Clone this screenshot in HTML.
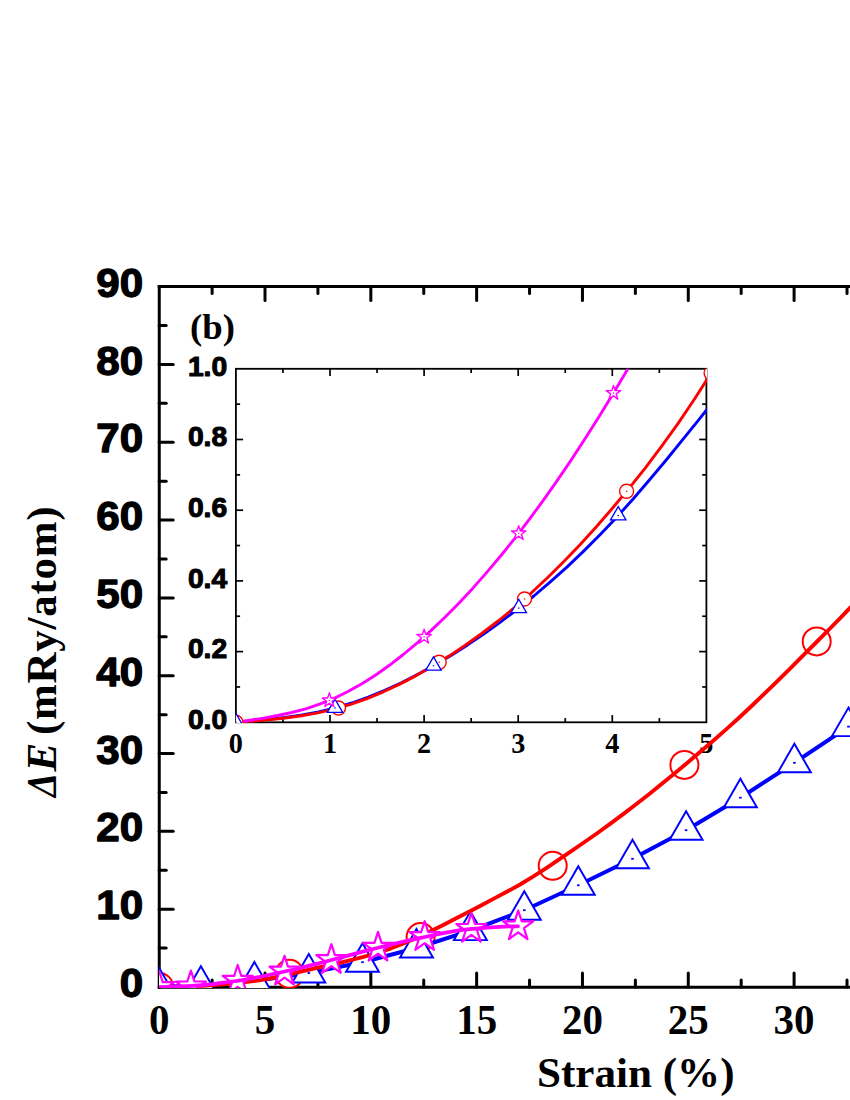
<!DOCTYPE html>
<html lang="en">
<head>
<meta charset="utf-8">
<title>Strain energy chart (b)</title>
<style>
html, body { margin: 0; padding: 0; background: #ffffff; }
body { width: 850px; height: 1100px; overflow: hidden; font-family: "Liberation Sans", sans-serif; }
svg { display: block; }
</style>
</head>
<body>
<svg width="850" height="1100" viewBox="0 0 850 1100">
<rect x="0" y="0" width="850" height="1100" fill="#ffffff"/>
<g id="main-axes" stroke="#000" stroke-width="3" fill="none" stroke-linecap="butt">
<path d="M159.25 285.1 V988.7"/>
<path d="M157.75 286.6 H855"/>
<path d="M157.75 987.2 H855"/>
</g>
<g id="main-ticks" stroke="#000" stroke-width="3" fill="none" stroke-linecap="round">
<path d="M212.11 987 v-7"/>
<path d="M212.11 286.6 v7"/>
<path d="M265.01 987 v-14"/>
<path d="M265.01 286.6 v14"/>
<path d="M317.92 987 v-7"/>
<path d="M317.92 286.6 v7"/>
<path d="M370.83 987 v-14"/>
<path d="M370.83 286.6 v14"/>
<path d="M423.74 987 v-7"/>
<path d="M423.74 286.6 v7"/>
<path d="M476.64 987 v-14"/>
<path d="M476.64 286.6 v14"/>
<path d="M529.55 987 v-7"/>
<path d="M529.55 286.6 v7"/>
<path d="M582.46 987 v-14"/>
<path d="M582.46 286.6 v14"/>
<path d="M635.37 987 v-7"/>
<path d="M635.37 286.6 v7"/>
<path d="M688.28 987 v-14"/>
<path d="M688.28 286.6 v14"/>
<path d="M741.18 987 v-7"/>
<path d="M741.18 286.6 v7"/>
<path d="M794.09 987 v-14"/>
<path d="M794.09 286.6 v14"/>
<path d="M847 987 v-7"/>
<path d="M847 286.6 v7"/>
<path d="M159.2 948.09 h7"/>
<path d="M159.2 909.18 h14"/>
<path d="M159.2 870.27 h7"/>
<path d="M159.2 831.36 h14"/>
<path d="M159.2 792.45 h7"/>
<path d="M159.2 753.54 h14"/>
<path d="M159.2 714.63 h7"/>
<path d="M159.2 675.72 h14"/>
<path d="M159.2 636.81 h7"/>
<path d="M159.2 597.9 h14"/>
<path d="M159.2 558.99 h7"/>
<path d="M159.2 520.08 h14"/>
<path d="M159.2 481.17 h7"/>
<path d="M159.2 442.26 h14"/>
<path d="M159.2 403.35 h7"/>
<path d="M159.2 364.44 h14"/>
<path d="M159.2 325.53 h7"/>
</g>
<g id="main-ylabels" font-family="'Liberation Sans', sans-serif" font-weight="bold" font-size="40.9" fill="#000" stroke="#000" stroke-width="1.3" stroke-linejoin="round" text-anchor="end">
<text transform="translate(143.2 997.1) scale(1.03 1)" x="0" y="0">0</text>
<text transform="translate(143.2 919.28) scale(1.03 1)" x="0" y="0">10</text>
<text transform="translate(143.2 841.46) scale(1.03 1)" x="0" y="0">20</text>
<text transform="translate(143.2 763.64) scale(1.03 1)" x="0" y="0">30</text>
<text transform="translate(143.2 685.82) scale(1.03 1)" x="0" y="0">40</text>
<text transform="translate(143.2 608) scale(1.03 1)" x="0" y="0">50</text>
<text transform="translate(143.2 530.18) scale(1.03 1)" x="0" y="0">60</text>
<text transform="translate(143.2 452.36) scale(1.03 1)" x="0" y="0">70</text>
<text transform="translate(143.2 374.54) scale(1.03 1)" x="0" y="0">80</text>
<text transform="translate(143.2 296.72) scale(1.03 1)" x="0" y="0">90</text>
</g>
<g id="main-xlabels" font-family="'Liberation Serif', serif" font-weight="bold" font-size="41" fill="#000" text-anchor="middle">
<text transform="translate(159.2 1034.4) scale(1 1.025)" x="0" y="0">0</text>
<text transform="translate(265.01 1034.4) scale(1 1.025)" x="0" y="0">5</text>
<text transform="translate(370.83 1034.4) scale(1 1.025)" x="0" y="0">10</text>
<text transform="translate(476.64 1034.4) scale(1 1.025)" x="0" y="0">15</text>
<text transform="translate(582.46 1034.4) scale(1 1.025)" x="0" y="0">20</text>
<text transform="translate(688.28 1034.4) scale(1 1.025)" x="0" y="0">25</text>
<text transform="translate(794.09 1034.4) scale(1 1.025)" x="0" y="0">30</text>
</g>
<text id="xtitle" x="635.8" y="1087.3" font-family="'Liberation Serif', serif" font-weight="bold" font-size="43.1" text-anchor="middle" fill="#000">Strain (%)</text>
<g id="ytitle" font-family="'Liberation Serif', serif" font-weight="bold" fill="#000" style="font-kerning:none" font-size="43">
<text transform="translate(55.6 797) rotate(-90) scale(0.89 1)" font-style="italic">&#916;</text>
<text transform="translate(55.6 771.5) rotate(-90)" font-style="italic">E</text>
<text transform="translate(55.6 735.1) rotate(-90)" letter-spacing="0.74">(mRy/atom)</text>
</g>
<text id="panel" x="212.5" y="338.7" font-family="'Liberation Serif', serif" font-weight="bold" font-size="36.7" text-anchor="middle" fill="#000">(b)</text>
<g id="inset">
<rect x="235.9" y="368.8" width="470.5" height="353.5" fill="#fff" stroke="#000" stroke-width="1.8"/>
<g stroke="#000" stroke-width="1.7" fill="none" stroke-linecap="butt">
<path d="M282.95 722.3 v-4.2"/>
<path d="M282.95 368.8 v4.2"/>
<path d="M330 722.3 v-7.2"/>
<path d="M330 368.8 v7.2"/>
<path d="M377.05 722.3 v-4.2"/>
<path d="M377.05 368.8 v4.2"/>
<path d="M424.1 722.3 v-7.2"/>
<path d="M424.1 368.8 v7.2"/>
<path d="M471.15 722.3 v-4.2"/>
<path d="M471.15 368.8 v4.2"/>
<path d="M518.2 722.3 v-7.2"/>
<path d="M518.2 368.8 v7.2"/>
<path d="M565.25 722.3 v-4.2"/>
<path d="M565.25 368.8 v4.2"/>
<path d="M612.3 722.3 v-7.2"/>
<path d="M612.3 368.8 v7.2"/>
<path d="M659.35 722.3 v-4.2"/>
<path d="M659.35 368.8 v4.2"/>
<path d="M235.9 686.95 h4.2"/>
<path d="M706.4 686.95 h-4.2"/>
<path d="M235.9 651.6 h7.2"/>
<path d="M706.4 651.6 h-7.2"/>
<path d="M235.9 616.25 h4.2"/>
<path d="M706.4 616.25 h-4.2"/>
<path d="M235.9 580.9 h7.2"/>
<path d="M706.4 580.9 h-7.2"/>
<path d="M235.9 545.55 h4.2"/>
<path d="M706.4 545.55 h-4.2"/>
<path d="M235.9 510.2 h7.2"/>
<path d="M706.4 510.2 h-7.2"/>
<path d="M235.9 474.85 h4.2"/>
<path d="M706.4 474.85 h-4.2"/>
<path d="M235.9 439.5 h7.2"/>
<path d="M706.4 439.5 h-7.2"/>
<path d="M235.9 404.15 h4.2"/>
<path d="M706.4 404.15 h-4.2"/>
</g>
<g font-family="'Liberation Sans', sans-serif" font-weight="bold" font-size="26.9" fill="#000" stroke="#000" stroke-width="1" stroke-linejoin="round" text-anchor="end">
<text transform="translate(227.15 729.1) scale(1.05 1)" x="0" y="0">0.0</text>
<text transform="translate(227.15 658.4) scale(1.05 1)" x="0" y="0">0.2</text>
<text transform="translate(227.15 587.7) scale(1.05 1)" x="0" y="0">0.4</text>
<text transform="translate(227.15 517) scale(1.05 1)" x="0" y="0">0.6</text>
<text transform="translate(227.15 446.3) scale(1.05 1)" x="0" y="0">0.8</text>
<text transform="translate(227.15 375.6) scale(1.05 1)" x="0" y="0">1.0</text>
</g>
<g font-family="'Liberation Serif', serif" font-weight="bold" font-size="28.2" fill="#000" text-anchor="middle">
<text transform="translate(235.9 753) scale(1 1.04)" x="0" y="0">0</text>
<text transform="translate(330 753) scale(1 1.04)" x="0" y="0">1</text>
<text transform="translate(424.1 753) scale(1 1.04)" x="0" y="0">2</text>
<text transform="translate(518.2 753) scale(1 1.04)" x="0" y="0">3</text>
<text transform="translate(612.3 753) scale(1 1.04)" x="0" y="0">4</text>
<text transform="translate(706.4 753) scale(1 1.04)" x="0" y="0">5</text>
</g>
<clipPath id="iclip"><rect x="235.9" y="368.8" width="471.1" height="354.1"/></clipPath>
<g clip-path="url(#iclip)" fill="none" stroke-linejoin="round">
<path d="M235.9 722.3 252.4 720.9 269 719.3 285.5 717.4 302.1 715 318.6 711.9 335.2 707.9 351.7 703 368.3 697.1 384.8 690.3 401.4 682.7 417.9 674.3 434.5 665.2 451 655.4 467.6 644.9 484.1 633.8 500.7 621.9 517.2 609.3 533.8 596 550.3 581.9 566.9 567.1 583.4 551.4 600 534.8 616.5 517.4 633.1 499 649.6 479.8 666.2 460 682.7 439.7 699.3 419.1 715.8 398.3" stroke="#0000ff" stroke-width="2.9"/>
<path d="M235.9 722.3 252.3 721.1 268.7 719.7 285.1 718 301.4 715.8 317.8 712.9 334.2 709.1 350.6 704.4 367 698.6 383.4 691.8 399.8 684.1 416.2 675.6 432.5 666.2 448.9 656.1 465.3 645.2 481.7 633.5 498.1 621 514.5 607.6 530.9 593.3 547.2 578 563.6 561.8 580 544.7 596.4 526.7 612.8 507.8 629.2 488.1 645.6 467.6 661.9 445.9 678.3 423.1 694.7 398.8 711.1 373" stroke="#ff0000" stroke-width="2.9"/>
<path d="M235.9 722.3 249.9 720.3 263.8 718.1 277.8 715.5 291.7 712.5 305.7 708.8 319.6 704.2 333.6 698.6 347.5 691.8 361.5 684 375.4 675.2 389.4 665.3 403.3 654.5 417.3 642.9 431.2 630.4 445.2 617 459.1 602.9 473.1 587.9 487 572.1 501 555.5 515 538.1 528.9 519.9 542.9 500.9 556.8 481.2 570.8 460.6 584.7 439.3 598.7 417.2 612.6 394.4 626.6 370.9 640.5 347.4" stroke="#ff00ff" stroke-width="2.9"/>
<circle cx="235.9" cy="722.3" r="7" fill="#fff" stroke="#ff0000" stroke-width="1.4"/>
<rect x="235.2" y="721.7" width="1.4" height="1.2" fill="#ff0000"/>
<circle cx="338.47" cy="707.98" r="7" fill="#fff" stroke="#ff0000" stroke-width="1.4"/>
<rect x="337.77" y="707.38" width="1.4" height="1.2" fill="#ff0000"/>
<circle cx="439.16" cy="662.2" r="7" fill="#fff" stroke="#ff0000" stroke-width="1.4"/>
<rect x="438.46" y="661.6" width="1.4" height="1.2" fill="#ff0000"/>
<circle cx="524.5" cy="598.93" r="7" fill="#fff" stroke="#ff0000" stroke-width="1.4"/>
<rect x="523.8" y="598.33" width="1.4" height="1.2" fill="#ff0000"/>
<circle cx="626.6" cy="491.29" r="7" fill="#fff" stroke="#ff0000" stroke-width="1.4"/>
<rect x="625.9" y="490.69" width="1.4" height="1.2" fill="#ff0000"/>
<circle cx="711.1" cy="373.04" r="7" fill="#fff" stroke="#ff0000" stroke-width="1.4"/>
<rect x="710.4" y="372.44" width="1.4" height="1.2" fill="#ff0000"/>
<path d="M235.9 713.4 L243.61 726.75 L228.19 726.75 Z" fill="#fff" stroke="#0000ff" stroke-width="1.3" stroke-linejoin="miter"/>
<rect x="235.2" y="721.7" width="1.4" height="1.2" fill="#0000ff"/>
<path d="M334.99 699.08 L342.69 712.43 L327.28 712.43 Z" fill="#fff" stroke="#0000ff" stroke-width="1.3" stroke-linejoin="miter"/>
<rect x="334.29" y="707.38" width="1.4" height="1.2" fill="#0000ff"/>
<path d="M433.51 656.84 L441.22 670.19 L425.8 670.19 Z" fill="#fff" stroke="#0000ff" stroke-width="1.3" stroke-linejoin="miter"/>
<rect x="432.81" y="665.14" width="1.4" height="1.2" fill="#0000ff"/>
<path d="M518.76 599.22 L526.47 612.57 L511.06 612.57 Z" fill="#fff" stroke="#0000ff" stroke-width="1.3" stroke-linejoin="miter"/>
<rect x="518.06" y="607.52" width="1.4" height="1.2" fill="#0000ff"/>
<path d="M618.23 506.6 L625.94 519.95 L610.52 519.95 Z" fill="#fff" stroke="#0000ff" stroke-width="1.3" stroke-linejoin="miter"/>
<rect x="617.53" y="514.9" width="1.4" height="1.2" fill="#0000ff"/>
<path d="M329.34 692.78 L331.05 698.03 L336.57 698.03 L332.1 701.28 L333.81 706.53 L329.34 703.29 L324.87 706.53 L326.58 701.28 L322.11 698.03 L327.63 698.03 Z" fill="#fff" stroke="#ff00ff" stroke-width="1.35" stroke-linejoin="round"/>
<rect x="328.64" y="699.78" width="1.4" height="1.2" fill="#ff00ff"/>
<path d="M424.1 629.26 L425.81 634.51 L431.33 634.51 L426.86 637.76 L428.57 643.01 L424.1 639.76 L419.63 643.01 L421.34 637.76 L416.87 634.51 L422.39 634.51 Z" fill="#fff" stroke="#ff00ff" stroke-width="1.35" stroke-linejoin="round"/>
<rect x="423.4" y="636.26" width="1.4" height="1.2" fill="#ff00ff"/>
<path d="M518.67 525.75 L520.38 531.01 L525.9 531.01 L521.43 534.25 L523.14 539.5 L518.67 536.26 L514.2 539.5 L515.91 534.25 L511.44 531.01 L516.96 531.01 Z" fill="#fff" stroke="#ff00ff" stroke-width="1.35" stroke-linejoin="round"/>
<rect x="517.97" y="532.75" width="1.4" height="1.2" fill="#ff00ff"/>
<path d="M613.43 385.41 L615.14 390.67 L620.66 390.67 L616.19 393.91 L617.9 399.16 L613.43 395.92 L608.96 399.16 L610.67 393.91 L606.2 390.67 L611.72 390.67 Z" fill="#fff" stroke="#ff00ff" stroke-width="1.35" stroke-linejoin="round"/>
<rect x="612.73" y="392.41" width="1.4" height="1.2" fill="#ff00ff"/>
</g>
</g>
<clipPath id="mclip"><rect x="159" y="280" width="700" height="708"/></clipPath>
<g id="main-data" clip-path="url(#mclip)" fill="none">
<circle cx="159.2" cy="987" r="14" fill="#fff" stroke="#ff0000" stroke-width="2"/>
<circle cx="289.5" cy="973.8" r="14" fill="#fff" stroke="#ff0000" stroke-width="2"/>
<circle cx="420.6" cy="937.1" r="14" fill="#fff" stroke="#ff0000" stroke-width="2"/>
<circle cx="552.7" cy="865.8" r="14" fill="#fff" stroke="#ff0000" stroke-width="2"/>
<circle cx="684.4" cy="764.9" r="14" fill="#fff" stroke="#ff0000" stroke-width="2"/>
<circle cx="816.7" cy="641.4" r="14" fill="#fff" stroke="#ff0000" stroke-width="2"/>
<path d="M159.2 987 200.9 985.3 254.4 981 308.8 973 362.5 962.2 416.5 948 470.4 930.6 524.3 910.2 578.3 885.3 632.5 858.8 686.1 830.2 740.4 797.7 794.4 762.8 848.5 726.6 902.6 688" stroke="#0000ff" stroke-width="4" stroke-linejoin="round"/>
<path d="M159.2 968 L175.65 996.5 L142.75 996.5 Z" fill="#fff" stroke="#0000ff" stroke-width="1.95" stroke-linejoin="miter"/>
<rect x="157.9" y="986.1" width="2.6" height="1.8" fill="#0000ff"/>
<path d="M200.9 966.3 L217.35 994.8 L184.45 994.8 Z" fill="#fff" stroke="#0000ff" stroke-width="1.95" stroke-linejoin="miter"/>
<rect x="199.6" y="984.4" width="2.6" height="1.8" fill="#0000ff"/>
<path d="M254.4 962 L270.85 990.5 L237.95 990.5 Z" fill="#fff" stroke="#0000ff" stroke-width="1.95" stroke-linejoin="miter"/>
<rect x="253.1" y="980.1" width="2.6" height="1.8" fill="#0000ff"/>
<path d="M308.8 954 L325.25 982.5 L292.35 982.5 Z" fill="#fff" stroke="#0000ff" stroke-width="1.95" stroke-linejoin="miter"/>
<rect x="307.5" y="972.1" width="2.6" height="1.8" fill="#0000ff"/>
<path d="M362.5 943.2 L378.95 971.7 L346.05 971.7 Z" fill="#fff" stroke="#0000ff" stroke-width="1.95" stroke-linejoin="miter"/>
<rect x="361.2" y="961.3" width="2.6" height="1.8" fill="#0000ff"/>
<path d="M416.5 929 L432.95 957.5 L400.05 957.5 Z" fill="#fff" stroke="#0000ff" stroke-width="1.95" stroke-linejoin="miter"/>
<rect x="415.2" y="947.1" width="2.6" height="1.8" fill="#0000ff"/>
<path d="M470.4 911.6 L486.85 940.1 L453.95 940.1 Z" fill="#fff" stroke="#0000ff" stroke-width="1.95" stroke-linejoin="miter"/>
<rect x="469.1" y="929.7" width="2.6" height="1.8" fill="#0000ff"/>
<path d="M524.3 891.2 L540.75 919.7 L507.85 919.7 Z" fill="#fff" stroke="#0000ff" stroke-width="1.95" stroke-linejoin="miter"/>
<rect x="523" y="909.3" width="2.6" height="1.8" fill="#0000ff"/>
<path d="M578.3 866.3 L594.75 894.8 L561.85 894.8 Z" fill="#fff" stroke="#0000ff" stroke-width="1.95" stroke-linejoin="miter"/>
<rect x="577" y="884.4" width="2.6" height="1.8" fill="#0000ff"/>
<path d="M632.5 839.8 L648.95 868.3 L616.05 868.3 Z" fill="#fff" stroke="#0000ff" stroke-width="1.95" stroke-linejoin="miter"/>
<rect x="631.2" y="857.9" width="2.6" height="1.8" fill="#0000ff"/>
<path d="M686.1 811.2 L702.55 839.7 L669.65 839.7 Z" fill="#fff" stroke="#0000ff" stroke-width="1.95" stroke-linejoin="miter"/>
<rect x="684.8" y="829.3" width="2.6" height="1.8" fill="#0000ff"/>
<path d="M740.4 778.7 L756.85 807.2 L723.95 807.2 Z" fill="#fff" stroke="#0000ff" stroke-width="1.95" stroke-linejoin="miter"/>
<rect x="739.1" y="796.8" width="2.6" height="1.8" fill="#0000ff"/>
<path d="M794.4 743.8 L810.85 772.3 L777.95 772.3 Z" fill="#fff" stroke="#0000ff" stroke-width="1.95" stroke-linejoin="miter"/>
<rect x="793.1" y="761.9" width="2.6" height="1.8" fill="#0000ff"/>
<path d="M848.5 707.6 L864.95 736.1 L832.05 736.1 Z" fill="#fff" stroke="#0000ff" stroke-width="1.95" stroke-linejoin="miter"/>
<rect x="847.2" y="725.7" width="2.6" height="1.8" fill="#0000ff"/>
<path d="M902.6 669 L919.05 697.5 L886.15 697.5 Z" fill="#fff" stroke="#0000ff" stroke-width="1.95" stroke-linejoin="miter"/>
<rect x="901.3" y="687.1" width="2.6" height="1.8" fill="#0000ff"/>
<path d="M159.2 987 172.1 986.9 185 986.6 197.9 986.1 210.8 985.3 223.7 984.3 236.5 983.1 249.4 981.6 262.3 979.9 275.2 977.5 288.1 974.5 301 971.5 313.9 968.6 326.8 965.7 339.7 962.8 352.6 959.7 365.4 956.4 378.3 952.6 391.2 948.3 404.1 943.3 417 937.7 429.9 931.6 442.8 925.2 455.7 918.6 468.6 911.9 481.5 905.2 494.3 898.4 507.2 891.6 520.1 884.5 533 876.7 545.9 868.3 558.8 859.6 571.7 850.9 584.6 842 597.5 833 610.4 823.7 623.2 814.1 636.1 804.3 649 794.2 661.9 783.8 674.8 773.2 687.7 762.5 700.6 751.6 713.5 740.5 726.4 729.1 739.3 717.5 752.1 705.5 765 693.2 777.9 680.6 790.8 667.8 803.7 654.9 816.6 642 829.5 629 842.4 615.9 855.3 602.4 868.2 588.5" stroke="#ff0000" stroke-width="3.9" stroke-linejoin="round"/>
<path d="M159.2 971.2 L162.75 982.12 L174.23 982.12 L164.94 988.86 L168.49 999.78 L159.2 993.04 L149.91 999.78 L153.46 988.86 L144.17 982.12 L155.65 982.12 Z" fill="#fff" stroke="#ff00ff" stroke-width="2.2" stroke-linejoin="round"/>
<path d="M190.9 970.6 L194.45 981.52 L205.93 981.52 L196.64 988.26 L200.19 999.18 L190.9 992.44 L181.61 999.18 L185.16 988.26 L175.87 981.52 L187.35 981.52 Z" fill="#fff" stroke="#ff00ff" stroke-width="2.2" stroke-linejoin="round"/>
<path d="M237.7 965 L241.25 975.92 L252.73 975.92 L243.44 982.66 L246.99 993.58 L237.7 986.84 L228.41 993.58 L231.96 982.66 L222.67 975.92 L234.15 975.92 Z" fill="#fff" stroke="#ff00ff" stroke-width="2.2" stroke-linejoin="round"/>
<path d="M284.5 955.8 L288.05 966.72 L299.53 966.72 L290.24 973.46 L293.79 984.38 L284.5 977.64 L275.21 984.38 L278.76 973.46 L269.47 966.72 L280.95 966.72 Z" fill="#fff" stroke="#ff00ff" stroke-width="2.2" stroke-linejoin="round"/>
<path d="M331.4 944.2 L334.95 955.12 L346.43 955.12 L337.14 961.86 L340.69 972.78 L331.4 966.04 L322.11 972.78 L325.66 961.86 L316.37 955.12 L327.85 955.12 Z" fill="#fff" stroke="#ff00ff" stroke-width="2.2" stroke-linejoin="round"/>
<path d="M378 931.9 L381.55 942.82 L393.03 942.82 L383.74 949.56 L387.29 960.48 L378 953.74 L368.71 960.48 L372.26 949.56 L362.97 942.82 L374.45 942.82 Z" fill="#fff" stroke="#ff00ff" stroke-width="2.2" stroke-linejoin="round"/>
<path d="M424.7 921.2 L428.25 932.12 L439.73 932.12 L430.44 938.86 L433.99 949.78 L424.7 943.04 L415.41 949.78 L418.96 938.86 L409.67 932.12 L421.15 932.12 Z" fill="#fff" stroke="#ff00ff" stroke-width="2.2" stroke-linejoin="round"/>
<path d="M471.4 913.1 L474.95 924.02 L486.43 924.02 L477.14 930.76 L480.69 941.68 L471.4 934.94 L462.11 941.68 L465.66 930.76 L456.37 924.02 L467.85 924.02 Z" fill="#fff" stroke="#ff00ff" stroke-width="2.2" stroke-linejoin="round"/>
<path d="M518.2 910.5 L521.75 921.42 L533.23 921.42 L523.94 928.16 L527.49 939.08 L518.2 932.34 L508.91 939.08 L512.46 928.16 L503.17 921.42 L514.65 921.42 Z" fill="#fff" stroke="#ff00ff" stroke-width="2.2" stroke-linejoin="round"/>
<path d="M159.2 987 168.4 986.9 177.6 986.6 186.8 986.2 196 985.6 205.2 984.8 214.4 983.8 223.6 982.7 232.8 981.5 242 980.1 251.2 978.4 260.4 976.7 269.6 974.8 278.8 972.8 288 970.8 297.2 968.7 306.5 966.4 315.7 964.1 324.9 961.7 334.1 959.3 343.3 956.9 352.5 954.4 361.7 951.9 370.9 949.5 380.1 947.2 389.3 944.9 398.5 942.7 407.7 940.6 416.9 938.6 426.1 936.7 435.3 934.8 444.5 932.9 453.7 931.2 462.9 929.8 472.1 928.8 481.3 928.1 490.5 927.4 499.7 926.8 508.9 926.4 518.1 926.3" stroke="#ff00ff" stroke-width="3.7" stroke-linejoin="round" stroke-linecap="round"/>
</g>
</svg>
</body>
</html>
